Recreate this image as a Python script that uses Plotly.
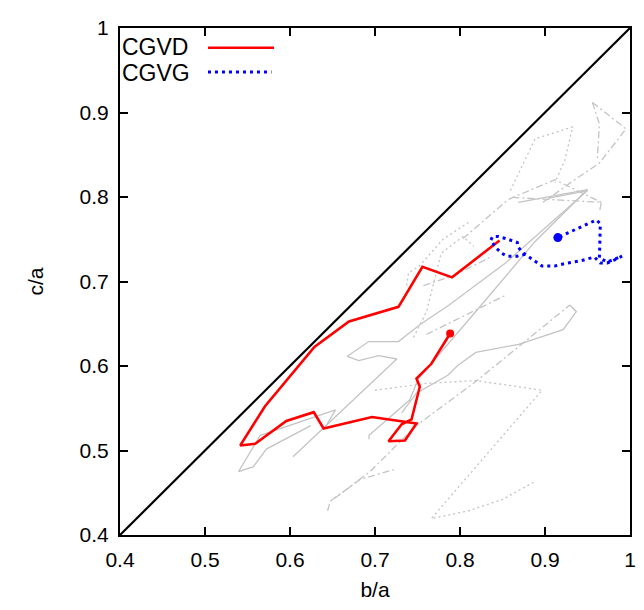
"""Shape ratios c/a versus b/a for CGVD and CGVG tracks."""

import plotly.graph_objects as go

# diagonal b/a = c/a
diag_x = [0.4, 1.0]
diag_y = [0.4, 1.0]

# CGVD track (red, solid), last point marked
cgvd_x = [0.8465, 0.7907, 0.7558, 0.7276, 0.6694, 0.6287, 0.5706, 0.5415, 0.5590,
          0.5957, 0.6279, 0.6395, 0.6965, 0.7488, 0.7352, 0.7159, 0.7314, 0.7430,
          0.7527, 0.7488, 0.7663, 0.7884]
cgvd_y = [0.7486, 0.7049, 0.7173, 0.6700, 0.6527, 0.6226, 0.5524, 0.5060, 0.5079,
          0.5350, 0.5454, 0.5261, 0.5396, 0.5319, 0.5118, 0.5110, 0.5311, 0.5368,
          0.5755, 0.5852, 0.6026, 0.6385]

# CGVG track (blue, dotted), last point marked
cgvg_x = [0.8767, 0.8674, 0.8558, 0.8488, 0.8430, 0.8360, 0.8384, 0.8453, 0.8535,
          0.8605, 0.8674, 0.8686, 0.8733, 0.8779, 0.8860, 0.8965, 0.9116, 0.9267,
          0.9407, 0.9500, 0.9581, 0.9651, 0.9733, 0.9814, 0.9907, 0.9733, 0.9640,
          0.9651, 0.9605, 0.9151]
cgvg_y = [0.7323, 0.7300, 0.7300, 0.7335, 0.7393, 0.7485, 0.7532, 0.7532, 0.7509,
          0.7485, 0.7462, 0.7404, 0.7346, 0.7312, 0.7254, 0.7184, 0.7184, 0.7219,
          0.7242, 0.7265, 0.7289, 0.7219, 0.7219, 0.7254, 0.7300, 0.7231, 0.7277,
          0.7683, 0.7729, 0.7520]

# background tracks (gray): (x, y, style)
bg_tracks = [
    ([0.6035, 0.7256, 0.7043, 0.6810, 0.6674, 0.6927, 0.7276, 0.7527, 0.7872, 0.8535, 0.9500],
     [0.4925, 0.6083, 0.6122, 0.6064, 0.6115, 0.6289, 0.6289, 0.6489, 0.6721, 0.7219, 0.8076],
     "solid"),
    ([0.6930, 0.6930, 0.7407, 0.7512, 0.8221, 0.8884, 0.9500, 0.8686],
     [0.5133, 0.5180, 0.5597, 0.5852, 0.6686, 0.7474, 0.8088, 0.7937],
     "solid"),
    ([0.9035, 0.9500],
     [0.7984, 0.8076],
     "solid"),
    ([0.7314, 0.7488, 0.7857, 0.7973, 0.8186, 0.8690, 0.9213, 0.9369, 0.9291],
     [0.5446, 0.5678, 0.5890, 0.6006, 0.6161, 0.6257, 0.6431, 0.6643, 0.6721],
     "solid"),
    ([0.6244, 0.5721, 0.5570, 0.5395, 0.5651, 0.6535, 0.6407],
     [0.5295, 0.5017, 0.4809, 0.4751, 0.5180, 0.5481, 0.5261],
     "solid"),
    ([0.6442, 0.6477, 0.6593, 0.6942, 0.7488, 0.8186, 0.9291],
     [0.4287, 0.4403, 0.4484, 0.4751, 0.5295, 0.5817, 0.6721],
     "dashdot"),
    ([0.6477, 0.6826, 0.7221],
     [0.4403, 0.4658, 0.4774],
     "dashdot"),
    ([0.7000, 0.7605, 0.8186, 0.8965, 0.7663, 0.8105, 0.8512, 0.8884],
     [0.5713, 0.5794, 0.5828, 0.5713, 0.4195, 0.4287, 0.4426, 0.4635],
     "dot"),
    ([0.9558, 0.9953, 0.9640, 0.9349, 0.8977],
     [0.9119, 0.8806, 0.8401, 0.8204, 0.7937],
     "dashdot"),
    ([0.9558, 0.9640, 0.9616],
     [0.9119, 0.8864, 0.8460],
     "dashdot"),
    ([0.8593, 0.8884, 0.9000, 0.9326, 0.9233, 0.9116],
     [0.8076, 0.8691, 0.8725, 0.8830, 0.8436, 0.8169],
     "dot"),
    ([0.8616, 0.9663, 0.9640],
     [0.7995, 0.7937, 0.7822],
     "dashdot"),
    ([0.8035, 0.8570, 0.9116, 0.9663],
     [0.7509, 0.7972, 0.8204, 0.7937],
     "dashdot"),
    ([0.7453, 0.7605, 0.7779, 0.8035, 0.8163],
     [0.6338, 0.6640, 0.7335, 0.7532, 0.7416],
     "dot"),
    ([0.7570, 0.7919, 0.8384],
     [0.6952, 0.7068, 0.7300],
     "dashdot"),
    ([0.7605, 0.8535],
     [0.6373, 0.6837],
     "dashdot"),
    ([0.7372, 0.7395, 0.7523, 0.7800, 0.8100],
     [0.6952, 0.7103, 0.7184, 0.7500, 0.7700],
     "dot"),
]

tick_vals = [0.4, 0.5, 0.6, 0.7, 0.8, 0.9, 1.0]
tick_text = ["0.4", "0.5", "0.6", "0.7", "0.8", "0.9", "1"]

dash_map = {"solid": "solid", "dashdot": "7px,3px,2px,3px", "dot": "2px,3px"}
FONT = "Liberation Sans, Arial, sans-serif"

fig = go.Figure()

for bx, by, style in bg_tracks:
    fig.add_trace(
        go.Scatter(
            x=bx, y=by, mode="lines", showlegend=False, hoverinfo="skip",
            line={"color": "#c4c4c4", "width": 1.3, "dash": dash_map[style]},
        )
    )

fig.add_trace(
    go.Scatter(x=diag_x, y=diag_y, mode="lines", showlegend=False,
               line={"color": "black", "width": 2.2})
)

fig.add_trace(
    go.Scatter(x=cgvd_x, y=cgvd_y, mode="lines", name="CGVD",
               line={"color": "#ff0000", "width": 2.6})
)
fig.add_trace(
    go.Scatter(x=cgvd_x[-1:], y=cgvd_y[-1:], mode="markers", showlegend=False,
               marker={"color": "#ff0000", "size": 8})
)
fig.add_trace(
    go.Scatter(x=cgvg_x, y=cgvg_y, mode="lines", name="CGVG",
               line={"color": "#0000ff", "width": 3, "dash": "3px,4px"})
)
fig.add_trace(
    go.Scatter(x=cgvg_x[-1:], y=cgvg_y[-1:], mode="markers", showlegend=False,
               marker={"color": "#0000ff", "size": 9})
)

# gnuplot-style key: text on the left, sample line on the right
fig.add_annotation(x=0.0, y=0.962, xref="paper", yref="paper", text="CGVD",
                   showarrow=False, xanchor="left", yanchor="middle",
                   font={"size": 23, "color": "black", "family": FONT})
fig.add_annotation(x=0.0, y=0.912, xref="paper", yref="paper", text="CGVG",
                   showarrow=False, xanchor="left", yanchor="middle",
                   font={"size": 23, "color": "black", "family": FONT})
fig.add_shape(type="line", xref="paper", yref="paper", x0=0.1725, x1=0.302,
              y0=0.961, y1=0.961, line={"color": "#ff0000", "width": 2.6})
fig.add_shape(type="line", xref="paper", yref="paper", x0=0.1725, x1=0.297,
              y0=0.913, y1=0.913, line={"color": "#0000ff", "width": 3, "dash": "3px,4px"})

axis_style = dict(
    range=[0.4, 1.0],
    tickvals=tick_vals,
    ticktext=tick_text,
    ticks="inside",
    ticklen=8,
    tickwidth=2,
    tickcolor="black",
    showline=True,
    linecolor="black",
    linewidth=2.2,
    mirror="allticks",
    showgrid=False,
    zeroline=False,
    ticklabeloverflow="allow",
    tickfont={"size": 21, "color": "black", "family": FONT},
)

fig.update_xaxes(**axis_style, title={"text": "b/a", "standoff": 12,
                                      "font": {"size": 21, "color": "black", "family": FONT}},
                 ticklabelstandoff=5)
fig.update_yaxes(**axis_style, title={"text": "c/a", "standoff": 30,
                                      "font": {"size": 21, "color": "black", "family": FONT}},
                 ticklabelstandoff=5)

# page body has an 8px offset, so the figure is sized to end at the window edge
fig.update_layout(
    width=636,
    height=602,
    margin={"l": 112, "r": 8, "t": 9, "b": 75},
    plot_bgcolor="white",
    paper_bgcolor="white",
    showlegend=False,
)

fig.write_html("out.html")
